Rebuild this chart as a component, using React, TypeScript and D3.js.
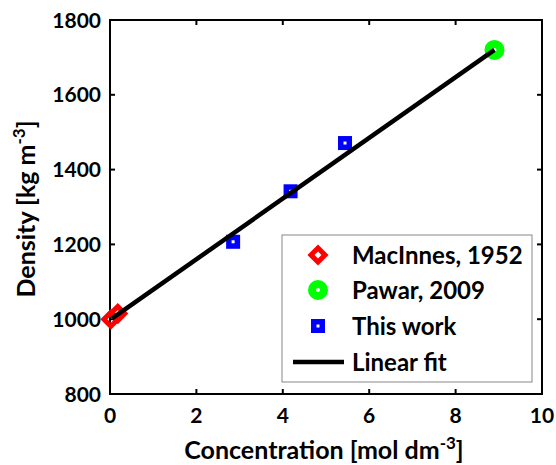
import React from "react";
import * as d3 from "d3";

const macX = [0.02, 0.18];
const macY = [1000, 1015];
const pawX = [8.9];
const pawY = [1720];
const workX = [2.85, 4.18, 5.44];
const workY = [1207, 1342, 1471];
const fitX = [0.05, 8.9];
const fitY = [1002, 1720];
const xTicks = [0, 2, 4, 6, 8, 10];
const yTicks = [800, 1000, 1200, 1400, 1600, 1800];
const legendLabels = ["MacInnes, 1952", "Pawar, 2009", "This work", "Linear fit"];

const W = 556, H = 465;
const L = 110, R = 542, T = 20, B = 394;
const font = "Lato, 'DejaVu Sans', sans-serif";

export default function App() {
  const x = d3.scaleLinear().domain([0, 10]).range([L, R]);
  const y = d3.scaleLinear().domain([800, 1800]).range([B, T]);
  const line = d3.line<number>().x((d, i) => x(fitX[i])).y((d, i) => y(d));
  const diamond = (cx: number, cy: number, s: number) =>
    `M${cx},${cy - s}L${cx + s},${cy}L${cx},${cy + s}L${cx - s},${cy}Z`;
  const lx = 318, tx = 352, rows = [255, 290, 326, 362];
  return (
    <svg width={W} height={H} style={{ position: "absolute", left: 0, top: 0, background: "#fff" }}>
      <rect x={0} y={0} width={W} height={H} fill="#fff" />
      {xTicks.map((t) => (
        <g key={"x" + t}>
          <line x1={x(t)} x2={x(t)} y1={B} y2={B - 5} stroke="#000" strokeWidth={2} />
          <line x1={x(t)} x2={x(t)} y1={T} y2={T + 5} stroke="#000" strokeWidth={2} />
          <text x={x(t)} y={423} textAnchor="middle" fontFamily={font} fontWeight="bold" fontSize={21}>{t}</text>
        </g>
      ))}
      {yTicks.map((t) => (
        <g key={"y" + t}>
          <line x1={L} x2={L + 5} y1={y(t)} y2={y(t)} stroke="#000" strokeWidth={2} />
          <line x1={R} x2={R - 5} y1={y(t)} y2={y(t)} stroke="#000" strokeWidth={2} />
          <text x={101} y={y(t)} dy="0.36em" textAnchor="end" fontFamily={font} fontWeight="bold" fontSize={21}>{t}</text>
        </g>
      ))}
      <rect x={L} y={T} width={R - L} height={B - T} fill="none" stroke="#000" strokeWidth={2} />
      {macX.map((v, i) => (
        <path key={"m" + i} d={diamond(x(v), y(macY[i]), 7)} fill="none" stroke="#ff0000" strokeWidth={5} />
      ))}
      {pawX.map((v, i) => (
        <circle key={"p" + i} cx={x(v)} cy={y(pawY[i])} r={6} fill="none" stroke="#00ff00" strokeWidth={8} />
      ))}
      {workX.map((v, i) => (
        <rect key={"w" + i} x={x(v) - 4.25} y={y(workY[i]) - 4.25} width={8.5} height={8.5} fill="none" stroke="#0000ff" strokeWidth={5.5} />
      ))}
      <path d={line(fitY) || ""} fill="none" stroke="#000" strokeWidth={4.5} />
      <rect x={282} y={235} width={250} height={147} fill="#fff" stroke="#888" strokeWidth={1} />
      <path d={diamond(lx, rows[0], 7)} fill="none" stroke="#ff0000" strokeWidth={5} />
      <circle cx={lx} cy={rows[1]} r={6} fill="none" stroke="#00ff00" strokeWidth={8} />
      <rect x={lx - 4.25} y={rows[2] - 4.25} width={8.5} height={8.5} fill="none" stroke="#0000ff" strokeWidth={5.5} />
      <line x1={293} x2={344} y1={rows[3]} y2={rows[3]} stroke="#000" strokeWidth={4.5} />
      {legendLabels.map((s, i) => (
        <text key={s} x={tx} y={rows[i]} dy="0.36em" fontFamily={font} fontWeight="bold" fontSize={24}>{s}</text>
      ))}
      <text x={324} y={459} textAnchor="middle" fontFamily={font} fontWeight="bold" fontSize={25}>
        Concentration [mol dm<tspan dy={-10} fontSize={17}>-3</tspan><tspan dy={10}>]</tspan>
      </text>
      <text transform={`translate(35,209) rotate(-90)`} textAnchor="middle" fontFamily={font} fontWeight="bold" fontSize={25}>
        Density [kg m<tspan dy={-10} fontSize={17}>-3</tspan><tspan dy={10}>]</tspan>
      </text>
    </svg>
  );
}
